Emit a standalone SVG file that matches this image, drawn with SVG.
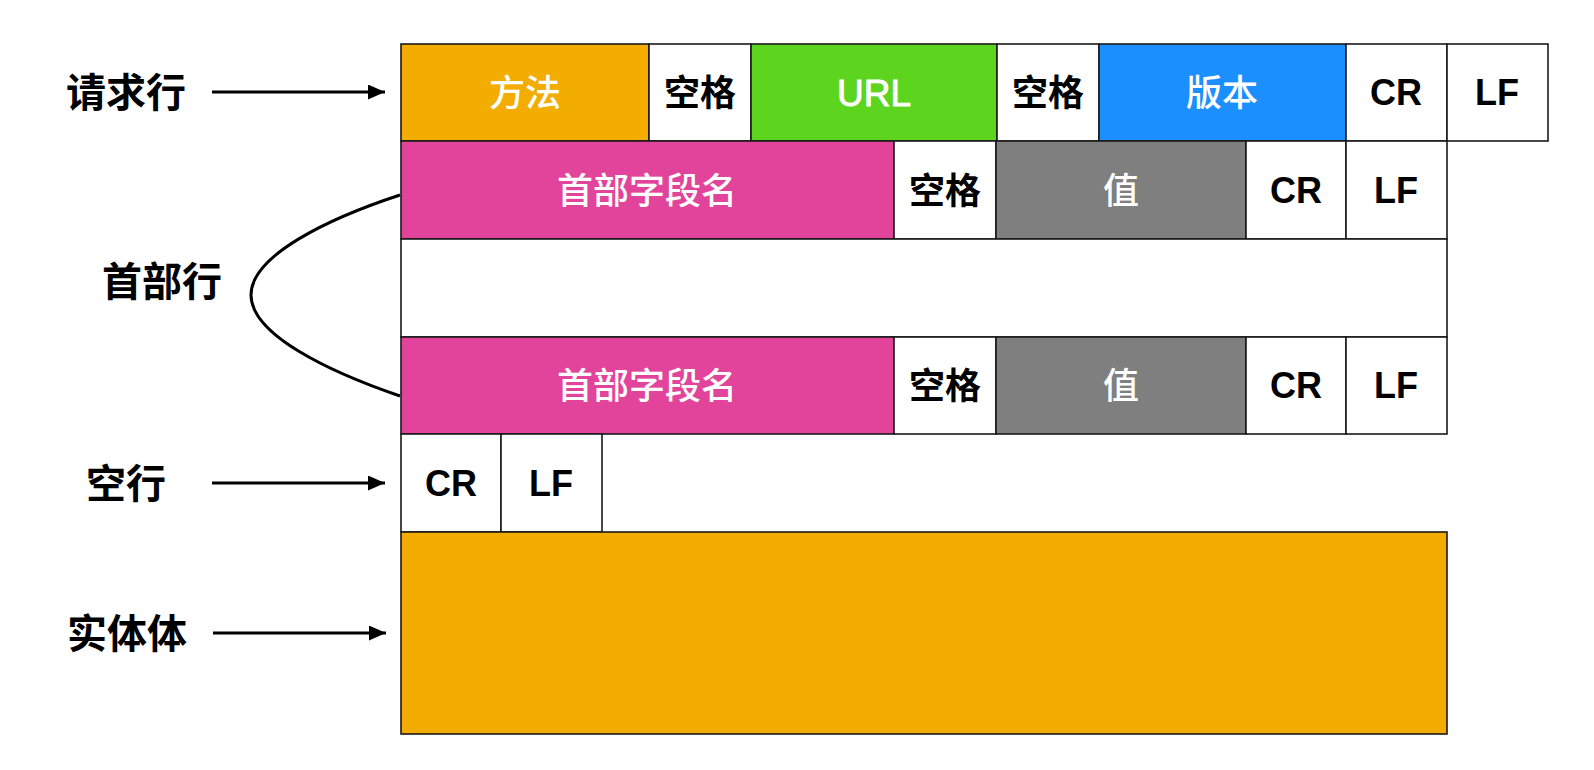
<svg xmlns="http://www.w3.org/2000/svg" width="1594" height="770" viewBox="0 0 1594 770">
<defs>
<marker id="ah" markerWidth="17" markerHeight="15" refX="17" refY="7.5" orient="auto" markerUnits="userSpaceOnUse">
<path d="M0,0 L17,7.5 L0,15 Z" fill="#000"/>
</marker>
<style>
.c{stroke:#1a1a1a;stroke-width:1.6}
.w{fill:#fff}
.or{fill:#F3AC00}
.gr{fill:#5DD41E}
.bl{fill:#1C8FFF}
.pk{fill:#E1449A}
.gy{fill:#7F7F7F}
.tw{font-family:"Noto Sans CJK SC","Liberation Sans",sans-serif;font-size:36px;font-weight:500;fill:#fff;text-anchor:middle}
.tb{font-family:"Noto Sans CJK SC","Liberation Sans",sans-serif;font-size:36px;font-weight:700;fill:#000;text-anchor:middle}
.lt{font-family:"Liberation Sans",Arial,sans-serif;font-size:36px;font-weight:700;fill:#000;text-anchor:middle}
.lw{font-family:"Liberation Sans",Arial,sans-serif;font-size:37px;font-weight:400;fill:#fff;stroke:#fff;stroke-width:0.9;text-anchor:middle}
.lab{font-family:"Noto Sans CJK SC","Liberation Sans",sans-serif;font-size:40px;font-weight:700;fill:#000;text-anchor:middle}
.ln{stroke:#000;stroke-width:3;fill:none}
</style>
</defs>
<rect width="1594" height="770" fill="#fff"/>

<g id="row-request">
<rect class="c or" x="401" y="44" width="248" height="97"/>
<text class="tw" x="525" y="106">方法</text>
<rect class="c w" x="649" y="44" width="102" height="97"/>
<text class="tb" x="700" y="106">空格</text>
<rect class="c gr" x="751" y="44" width="246" height="97"/>
<text class="lw" x="874" y="106">URL</text>
<rect class="c w" x="997" y="44" width="102" height="97"/>
<text class="tb" x="1048" y="106">空格</text>
<rect class="c bl" x="1099" y="44" width="247" height="97"/>
<text class="tw" x="1222" y="106">版本</text>
<rect class="c w" x="1346" y="44" width="101" height="97"/>
<text class="lt" x="1396" y="105">CR</text>
<rect class="c w" x="1447" y="44" width="101" height="97"/>
<text class="lt" x="1497" y="105">LF</text>
</g>

<g id="row-header-1">
<rect class="c pk" x="401" y="141" width="493" height="98"/>
<text class="tw" x="647" y="204">首部字段名</text>
<rect class="c w" x="894" y="141" width="102" height="98"/>
<text class="tb" x="945" y="204">空格</text>
<rect class="c gy" x="996" y="141" width="250" height="98"/>
<text class="tw" x="1121" y="204">值</text>
<rect class="c w" x="1246" y="141" width="100" height="98"/>
<text class="lt" x="1296" y="203">CR</text>
<rect class="c w" x="1346" y="141" width="101" height="98"/>
<text class="lt" x="1396" y="203">LF</text>
</g>

<g id="row-header-gap">
<rect class="c w" x="401" y="239" width="1046" height="98"/>
</g>

<g id="row-header-2">
<rect class="c pk" x="401" y="337" width="493" height="97"/>
<text class="tw" x="647" y="399">首部字段名</text>
<rect class="c w" x="894" y="337" width="102" height="97"/>
<text class="tb" x="945" y="399">空格</text>
<rect class="c gy" x="996" y="337" width="250" height="97"/>
<text class="tw" x="1121" y="399">值</text>
<rect class="c w" x="1246" y="337" width="100" height="97"/>
<text class="lt" x="1296" y="398">CR</text>
<rect class="c w" x="1346" y="337" width="101" height="97"/>
<text class="lt" x="1396" y="398">LF</text>
</g>

<g id="row-blank">
<rect class="c w" x="401" y="434" width="100" height="98"/>
<text class="lt" x="451" y="496">CR</text>
<rect class="c w" x="501" y="434" width="101" height="98"/>
<text class="lt" x="551" y="496">LF</text>
</g>

<g id="row-body">
<rect class="c or" x="401" y="532" width="1046" height="202"/>
</g>

<g id="label-request"><text class="lab" x="126" y="107">请求行</text></g>
<g id="label-header"><text class="lab" x="162" y="296">首部行</text></g>
<g id="label-blank"><text class="lab" x="126" y="498">空行</text></g>
<g id="label-body"><text class="lab" x="127" y="648">实体体</text></g>

<g id="connectors">
<line class="ln" x1="212" y1="92" x2="385" y2="92" marker-end="url(#ah)"/>
<line class="ln" x1="212" y1="483" x2="385" y2="483" marker-end="url(#ah)"/>
<line class="ln" x1="213" y1="633" x2="386" y2="633" marker-end="url(#ah)"/>
<path class="ln" d="M400,195 C330,218 251,255 251,295 C251,335 330,372 400,396"/>
</g>
</svg>
